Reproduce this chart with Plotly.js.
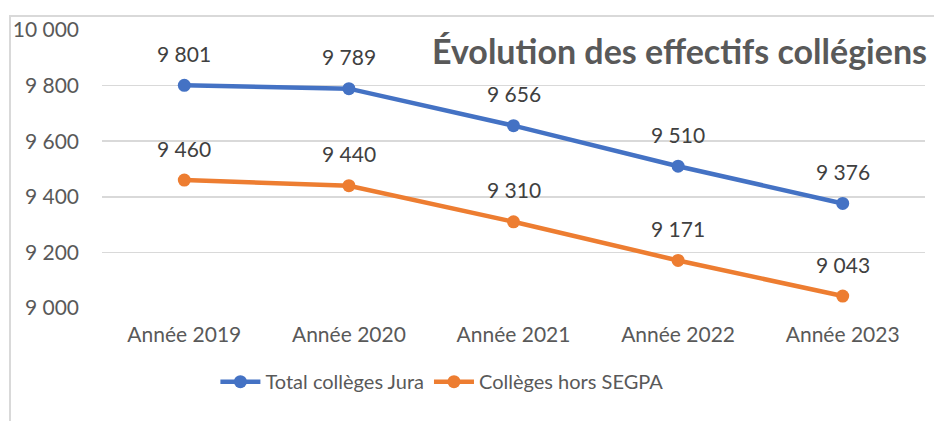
<!DOCTYPE html>
<html><head><meta charset="utf-8">
<script src="https://cdn.plot.ly/plotly-3.0.1.min.js"></script>
<style>
html,body{margin:0;padding:0;background:#fff;}
#wrap{position:relative;width:934px;height:421px;overflow:hidden;}
#frame{position:absolute;left:9px;top:15px;width:960px;height:440px;border-left:2px solid #d9d9d9;border-top:2px solid #d9d9d9;pointer-events:none;}
#chart{position:absolute;left:0;top:0;width:934px;height:421px;}
</style></head>
<body><div id="wrap"><div id="chart"></div><div id="frame"></div></div>
<script>
const categories = ['Année 2019','Année 2020','Année 2021','Année 2022','Année 2023'];
const totalJura = [9801, 9789, 9656, 9510, 9376];
const horsSegpa = [9460, 9440, 9310, 9171, 9043];
const seriesNames = ['Total collèges Jura', 'Collèges hors SEGPA'];
const yTicks = [9000, 9200, 9400, 9600, 9800, 10000];
const titleText = 'Évolution des effectifs collégiens';

function fmt(v){ return String(v).replace(/\B(?=(\d{3})+(?!\d))/g, ' '); }

const font = 'Lato, "Open Sans", sans-serif';
const traces = [
  {x: categories, y: totalJura, name: seriesNames[0], type:'scatter', mode:'lines+markers',
   line:{color:'#4472C4', width:4.5}, marker:{color:'#4472C4', size:13}},
  {x: categories, y: horsSegpa, name: seriesNames[1], type:'scatter', mode:'lines+markers',
   line:{color:'#ED7D31', width:4.5}, marker:{color:'#ED7D31', size:13}}
];
const annotations = [];
[totalJura, horsSegpa].forEach(s => s.forEach((v,i) => annotations.push({
  x: categories[i], y: v, xref:'x', yref:'y', text: fmt(v), showarrow:false,
  yshift: 32, font:{family:font, size:21, color:'#404040'}
})));
annotations.push({xref:'paper', yref:'paper', x:1, y:1.0, xanchor:'right', yanchor:'middle', yshift:-20, xshift:4,
  text:'<b>'+titleText+'</b>', showarrow:false, font:{family:font, size:34, color:'#595959'}});

const layout = {
  width:934, height:421,
  margin:{l:102, r:9, t:30, b:113},
  paper_bgcolor:'rgba(0,0,0,0)', plot_bgcolor:'rgba(0,0,0,0)',
  separators:', ',
  font:{family:font, color:'#595959', size:20},
  showlegend:true,
  legend:{orientation:'h', x:0.413, xanchor:'center', y:-0.265, yanchor:'middle',
    font:{family:font, size:20, color:'#595959'}, itemwidth:40, traceorder:'normal'},
  xaxis:{type:'category', range:[-0.5,4.5], showgrid:false, zeroline:false, showline:false,
    ticks:'', tickfont:{family:font, size:21, color:'#595959'}, ticklabelstandoff:12, fixedrange:true},
  yaxis:{range:[9000,10000], tickvals:yTicks, ticktext:yTicks.map(fmt), showgrid:true, gridcolor:'#d9d9d9', gridwidth:1.5,
    zeroline:false, showline:false, ticks:'', tickfont:{family:font, size:21, color:'#595959'}, ticklabelstandoff:22, fixedrange:true},
  annotations: annotations
};
Plotly.newPlot('chart', traces, layout, {displayModeBar:false, staticPlot:true});
</script></body></html>
